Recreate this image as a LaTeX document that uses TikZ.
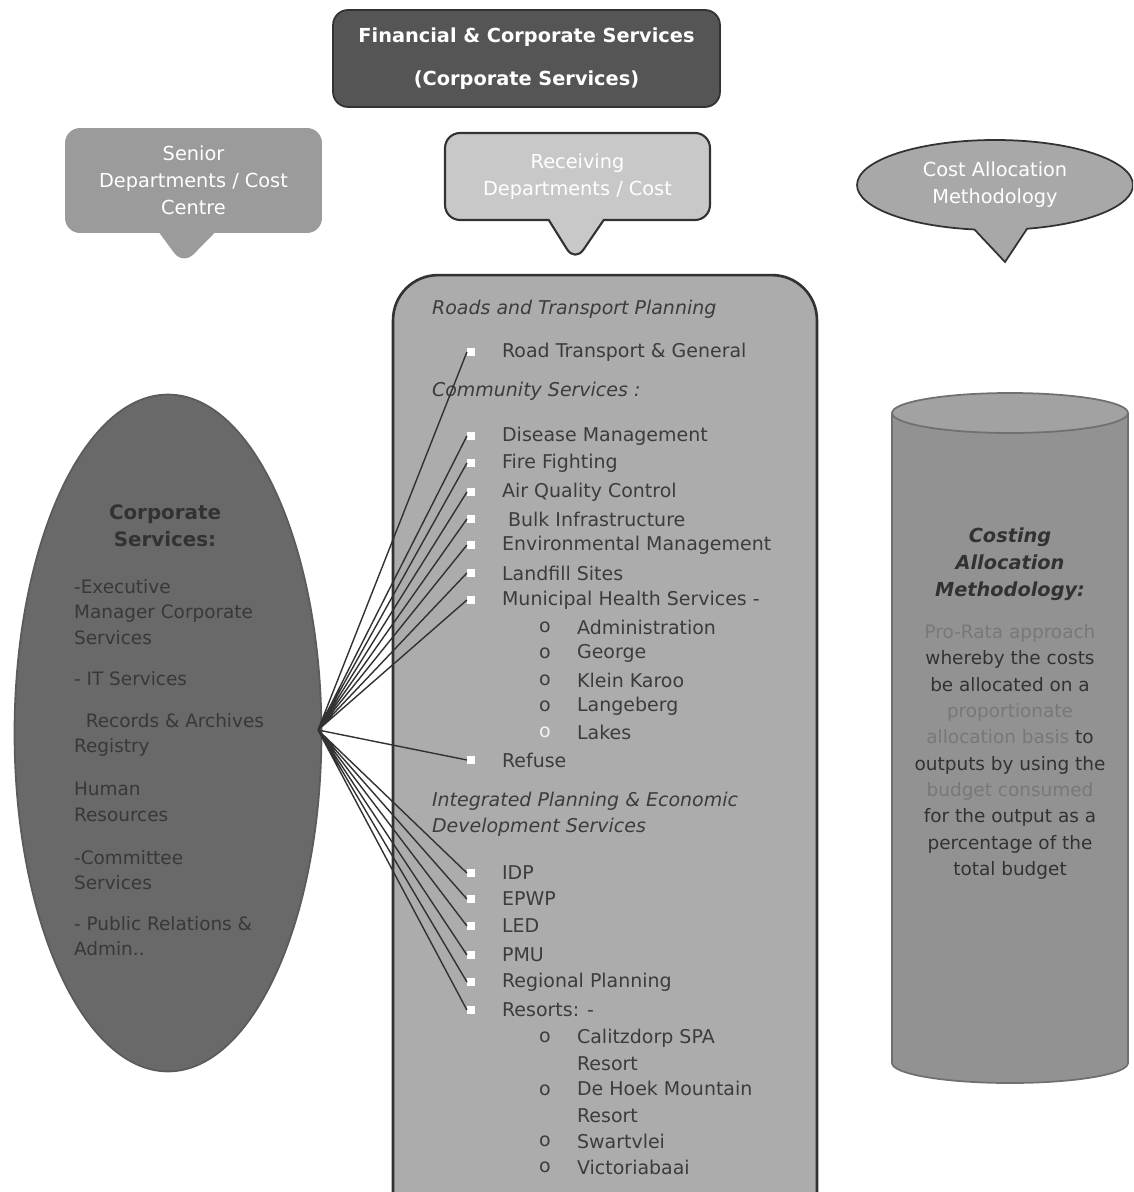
\documentclass[tikz,border=0pt]{standalone}
\usepackage{fontspec}
\setmainfont{DejaVu Sans}
\usepackage{xcolor}
\usetikzlibrary{shapes.geometric, shapes.callouts, positioning}
\definecolor{darkbox}{RGB}{85, 85, 85}
\definecolor{edgegray}{RGB}{50, 50, 50}
\definecolor{calloutgray}{RGB}{155, 155, 155}
\definecolor{recvgray}{RGB}{200, 200, 200}
\definecolor{ovalgray}{RGB}{168, 168, 168}
\definecolor{corpgray}{RGB}{105, 105, 105}
\definecolor{listgray}{RGB}{172, 172, 172}
\definecolor{cylgray}{RGB}{146, 146, 146}
\definecolor{textgray}{RGB}{60, 60, 60}
\definecolor{litegray}{RGB}{120, 120, 120}
\newcommand{\itemfont}{\fontsize{10.8}{15}\selectfont}
\newcommand{\boxfont}{\fontsize{11}{15.3}\selectfont}

\begin{document}
\begin{tikzpicture}[
  x=0.02cm, y=-0.02cm,
  topbox/.style={rectangle, rounded corners=0.3cm, draw=edgegray, line width=1pt, fill=darkbox,
                 minimum width=7.74cm, minimum height=1.94cm, align=center, text=white,
                 font=\boxfont\bfseries},
  senior/.style={rectangle callout, rounded corners=0.3cm, fill=calloutgray,
                 minimum width=5.14cm, minimum height=2.1cm, align=center, text=white,
                 font=\boxfont, callout pointer width=1.1cm},
  receiving/.style={rectangle callout, rounded corners=0.3cm, draw=edgegray, line width=1.2pt,
                 fill=recvgray, minimum width=5.3cm, minimum height=1.74cm, align=center,
                 text=white, font=\boxfont, callout pointer width=1.1cm},
  method/.style={ellipse callout, draw=edgegray, line width=1pt, fill=ovalgray,
                 minimum width=5.52cm, minimum height=1.8cm, align=center, text=white,
                 font=\boxfont, callout pointer arc=22},
  corp/.style={ellipse, draw=edgegray!80, line width=1pt, fill=corpgray,
               minimum width=6.14cm, minimum height=13.54cm},
  listbox/.style={rectangle, rounded corners=0.9cm, draw=edgegray, line width=1.5pt,
                  fill=listgray, minimum width=8.48cm, minimum height=19.7cm},
  head/.style={anchor=west, font=\itemfont\itshape, text=textgray, inner sep=1pt, align=left},
  item/.style={anchor=west, font=\itemfont, text=textgray, inner sep=1pt, align=left},
  bul/.style={rectangle, fill=white, minimum size=0.15cm, inner sep=0pt},
  sub/.style={anchor=center, font=\itemfont, text=textgray, inner sep=1pt},
  corptext/.style={anchor=west, inner sep=1pt, font=\fontsize{10.5}{14.5}\selectfont, text=edgegray!90!corpgray, align=left},
  fan/.style={line width=0.8pt, draw=edgegray}
]
\useasboundingbox (0,0) rectangle (1133,1192);
\clip (0,0) rectangle (1133,1192);

% Top
\node[topbox] (fin) at (526.5,58.5) {Financial \& Corporate Services\\[9pt](Corporate Services)};

% Callouts
\node[senior, callout absolute pointer={(183,265)}] (senior) at (193.5,180.5)
  {Senior\\Departments / Cost\\Centre};
\node[receiving, callout absolute pointer={(575,262)}] (recv) at (577.5,176.5)
  {Receiving\\Departments / Cost};
\node[method, callout absolute pointer={(1005,262)}] (meth) at (995,185)
  {Cost Allocation\\Methodology};

% Corporate services oval
\node[corp] (corp) at (168,733) {};
\node[font=\fontsize{11.3}{15.3}\selectfont\bfseries, text=edgegray, align=center] (corphead) at (165,526)
  {Corporate\\Services:};
\node[corptext] (c1) at (72,612) {-Executive\\Manager Corporate\\Services};
\node[corptext] (c2) at (72,679) {- IT Services};
\node[corptext] (c3) at (72,735) {\ \ Records \& Archives\\Registry};
\node[corptext] (c4) at (72,802) {Human\\Resources};
\node[corptext] (c5) at (72,870) {-Committee\\Services};
\node[corptext] (c6) at (72,936) {- Public Relations \&\\Admin..};
\coordinate (hub) at (318,730);

% Receiving departments list
\node[listbox] (list) at (605,767.5) {};
\node[head] (roads) at (430,309) {Roads and Transport Planning};
\node[bul] (b1) at (471,352) {};
\node[item] (t1) at (500,352) {Road Transport \& General};
\node[head] (comm) at (430,391) {Community Services :};
\node[bul] (b2) at (471,436) {};
\node[item] (t2) at (500,436) {Disease Management};
\node[bul] (b3) at (471,463) {};
\node[item] (t3) at (500,463) {Fire Fighting};
\node[bul] (b4) at (471,492) {};
\node[item] (t4) at (500,492) {Air Quality Control};
\node[bul] (b5) at (471,519) {};
\node[item] (t5) at (500,519) {\ Bulk Infrastructure};
\node[bul] (b6) at (471,545) {};
\node[item] (t6) at (500,545) {Environmental Management};
\node[bul] (b7) at (471,573) {};
\node[item] (t7) at (500,573) {Landfill Sites};
\node[bul] (b8) at (471,600) {};
\node[item] (t8) at (500,600) {Municipal Health Services -};
\node[sub] (o1) at (545,627) {o};
\node[item] (s1) at (575,627) {Administration};
\node[sub] (o2) at (545,653) {o};
\node[item] (s2) at (575,653) {George};
\node[sub] (o3) at (545,680) {o};
\node[item] (s3) at (575,680) {Klein Karoo};
\node[sub] (o4) at (545,706) {o};
\node[item] (s4) at (575,706) {Langeberg};
\node[sub, text=white!85!listgray] (o5) at (545,732) {o};
\node[item] (s5) at (575,732) {Lakes};
\node[bul] (b9) at (471,760) {};
\node[item] (t9) at (500,760) {Refuse};
\node[head] (ipeds) at (430,814.5) {Integrated Planning \& Economic\\Development Services};
\node[bul] (b10) at (471,873) {};
\node[item] (t10) at (500,873) {IDP};
\node[bul] (b11) at (471,899) {};
\node[item] (t11) at (500,899) {EPWP};
\node[bul] (b12) at (471,926) {};
\node[item] (t12) at (500,926) {LED};
\node[bul] (b13) at (471,955) {};
\node[item] (t13) at (500,955) {PMU};
\node[bul] (b14) at (471,982) {};
\node[item] (t14) at (500,982) {Regional Planning};
\node[bul] (b15) at (471,1010) {};
\node[item] (t15) at (500,1010) {Resorts: -};
\node[sub] (o6) at (545,1037) {o};
\node[item] (s6) at (575,1050) {Calitzdorp SPA\\Resort};
\node[sub] (o7) at (545,1090) {o};
\node[item] (s7) at (575,1102) {De Hoek Mountain\\Resort};
\node[sub] (o8) at (545,1141) {o};
\node[item] (s8) at (575,1141) {Swartvlei};
\node[sub] (o9) at (545,1167) {o};
\node[item] (s9) at (575,1167) {Victoriabaai};

% Fan of connectors
\draw[fan] (hub) -- (b1.west) (hub) -- (b2.west) (hub) -- (b3.west) (hub) -- (b4.west)
  (hub) -- (b5.west) (hub) -- (b6.west) (hub) -- (b7.west) (hub) -- (b8.west)
  (hub) -- (b9.west) (hub) -- (b10.west) (hub) -- (b11.west) (hub) -- (b12.west)
  (hub) -- (b13.west) (hub) -- (b14.west) (hub) -- (b15.west);

% Cylinder
\filldraw[fill=cylgray, draw=edgegray!70, line width=1pt] (1010,1063) ellipse [x radius=2.36cm, y radius=0.4cm];
\fill[cylgray] (892,413) rectangle (1128,1063);
\draw[edgegray!70, line width=1pt] (892,413) -- (892,1063) (1128,413) -- (1128,1063);
\filldraw[fill=cylgray!85!white, draw=edgegray!70, line width=1pt] (1010,413) ellipse [x radius=2.36cm, y radius=0.4cm];
\node[font=\fontsize{11}{15.5}\selectfont\bfseries\itshape, text=edgegray, align=center] (costhead) at (1010,564)
  {Costing\\Allocation\\Methodology:};
\node[font=\fontsize{10.5}{15}\selectfont, text=edgegray, align=center] (costtext) at (1010,752)
  {\textcolor{litegray}{Pro-Rata approach}\\whereby the costs\\be allocated on a\\
   \textcolor{litegray}{proportionate}\\\textcolor{litegray}{allocation basis} to\\outputs by using the\\
   \textcolor{litegray}{budget consumed}\\for the output as a\\percentage of the\\total budget};

\end{tikzpicture}
\end{document}
